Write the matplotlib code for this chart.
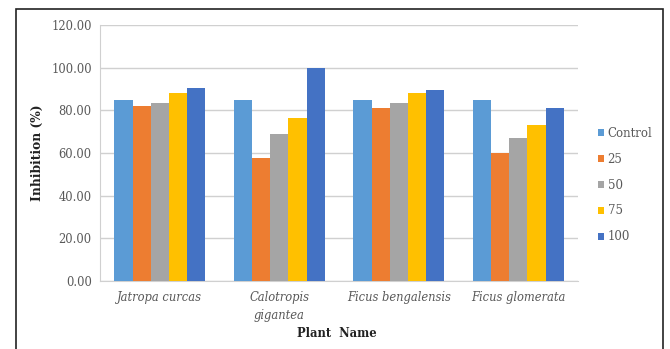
import numpy as np
import matplotlib.pyplot as plt
from matplotlib.patches import Rectangle

plt.rcParams['font.family'] = ['DejaVu Serif', 'Liberation Serif']

plants = ['Jatropa curcas', 'Calotropis\ngigantea', 'Ficus bengalensis', 'Ficus glomerata']
doses = ['Control', '25', '50', '75', '100']
control = [85.0, 85.0, 85.0, 85.0]
dose_25 = [82.2, 57.8, 81.2, 60.0]
dose_50 = [83.3, 69.0, 83.5, 66.8]
dose_75 = [88.0, 76.5, 88.0, 72.9]
dose_100 = [90.5, 100.0, 89.3, 81.2]
colors = ['#5B9BD5', '#ED7D31', '#A5A5A5', '#FFC000', '#4472C4']

series = [control, dose_25, dose_50, dose_75, dose_100]

fig = plt.figure(figsize=(6.7, 3.49), dpi=100)
ax = fig.add_axes([0.1493, 0.1948, 0.7134, 0.7336])

x = np.arange(len(plants))
w = 0.152
for i, (vals, lab, c) in enumerate(zip(series, doses, colors)):
    ax.bar(x + (i - 2) * w, vals, width=w, color=c, label=lab, zorder=3)

ax.set_xlim(-0.5, 3.5)
ax.set_ylim(0, 120)
ax.set_yticks(np.arange(0, 121, 20))
ax.set_yticklabels(['%.2f' % v for v in np.arange(0, 121, 20)], fontsize=8.3, color='#595959')
ax.set_xticks(x)
ax.set_xticklabels(plants, fontsize=8.3, style='italic', color='#595959', linespacing=1.5)
ax.tick_params(axis='y', length=0, pad=6)
ax.tick_params(axis='x', length=0, pad=7)
ax.grid(axis='y', color='#d0d0d0', linewidth=1.0, zorder=0)
for s in ['top', 'right']:
    ax.spines[s].set_visible(False)
ax.spines['left'].set_color('#d0d0d0')
ax.spines['bottom'].set_color('#d0d0d0')

ax.set_ylabel('Inhibition (%)', fontsize=8.8, fontweight='bold', labelpad=5, color='#222222')
fig.text(0.503, 0.035, 'Plant  Name', fontsize=8.3, fontweight='bold', ha='center', color='#222222')

ax.legend(loc='center left', bbox_to_anchor=(1.02, 0.375), frameon=False, fontsize=8.5,
          handlelength=0.5, handleheight=0.5, handletextpad=0.3, labelspacing=1.1,
          labelcolor='#595959')

fig.patches.append(Rectangle((0.0239, -0.05), 0.9657, 1.024, transform=fig.transFigure,
                             fill=False, edgecolor='#222222', linewidth=1.2))

fig.savefig('out.png', dpi=100)
